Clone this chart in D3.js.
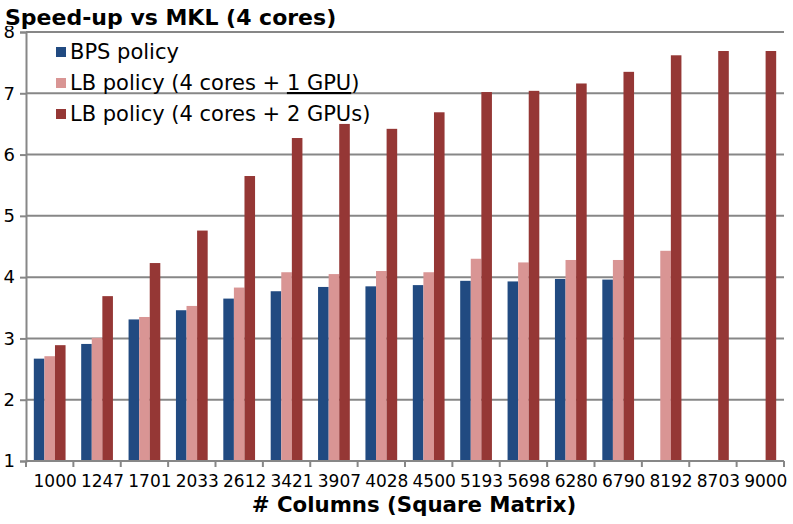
<!DOCTYPE html>
<html><head><meta charset="utf-8">
<script src="https://cdn.jsdelivr.net/npm/d3@7"></script>
<style>body{margin:0;background:#fff}svg{display:block}text{font-family:"DejaVu Sans",sans-serif}</style>
</head><body><svg id="c" width="793" height="524"></svg>
<script>
const categories = ["1000","1247","1701","2033","2612","3421","3907","4028","4500","5193","5698","6280","6790","8192","8703","9000"];
const seriesNames = ["BPS policy","LB policy (4 cores + 1 GPU)","LB policy (4 cores + 2 GPUs)"];
const bps = [2.67,2.91,3.31,3.46,3.65,3.77,3.84,3.85,3.87,3.94,3.93,3.97,3.96,null,null,null];
const lb1 = [2.71,3.01,3.35,3.53,3.83,4.08,4.05,4.10,4.08,4.30,4.24,4.28,4.28,4.43,null,null];
const lb2 = [2.89,3.69,4.23,4.76,5.65,6.27,6.50,6.42,6.69,7.02,7.04,7.16,7.35,7.62,7.69,7.69];
const yTicks = [1,2,3,4,5,6,7,8];
const colors = ["#214a81","#d99594","#953735"];

const svg = d3.select("#c");
const L = 26, R = 784, T = 32, B = 461;
const x = d3.scaleBand().domain(categories).range([L, R]).paddingInner(0.33).paddingOuter(0.165);
const xb = d3.scaleBand().domain(categories).range([L, R]);
const x1 = d3.scaleBand().domain([0,1,2]).range([0, x.bandwidth()]);
const y = d3.scaleLinear().domain([1,8]).range([B, T]);

// grid
svg.append("g").selectAll("line").data(yTicks.slice(1)).join("line")
  .attr("x1", L).attr("x2", R).attr("y1", d=>y(d)).attr("y2", d=>y(d))
  .attr("stroke", "#878787").attr("stroke-width", 2);

// bars
const series = [bps, lb1, lb2];
series.forEach((vals, si) => {
  svg.append("g").selectAll("rect").data(categories.map((c,i)=>({c, v: vals[i]})).filter(d=>d.v!=null)).join("rect")
    .attr("x", d => x(d.c) + x1(si)).attr("width", x1.bandwidth())
    .attr("y", d => y(d.v)).attr("height", d => y(1) - y(d.v))
    .attr("fill", colors[si]);
});

// y axis
const ya = svg.append("g").attr("transform", `translate(${L},0)`)
  .call(d3.axisLeft(y).tickValues(yTicks).tickSize(6).tickPadding(5).tickFormat(d3.format("d")));
ya.select(".domain").attr("stroke", "#878787").attr("stroke-width", 2);
ya.selectAll(".tick line").attr("stroke", "#878787").attr("stroke-width", 2);
ya.selectAll(".tick text").attr("font-size", 18).attr("fill", "#000").attr("font-family", "DejaVu Sans");

// x axis
const xa = svg.append("g").attr("transform", `translate(0,${B})`);
xa.append("line").attr("x1", L).attr("x2", R).attr("y1", 0).attr("y2", 0).attr("stroke", "#878787").attr("stroke-width", 2);
const bounds = categories.map(c => xb(c)).concat([R]);
xa.selectAll("line.t").data(bounds).join("line").attr("class","t")
  .attr("x1", d=>d).attr("x2", d=>d).attr("y1", 0).attr("y2", 6).attr("stroke", "#878787").attr("stroke-width", 2);
xa.selectAll("text").data(categories).join("text")
  .attr("x", d => xb(d) + xb.bandwidth()/2 + 5.5).attr("y", 26)
  .attr("text-anchor", "middle").attr("font-size", 17).attr("fill", "#000").text(d=>d);

// titles
svg.append("rect").attr("x", 0).attr("y", 0).attr("width", 340).attr("height", 26).attr("fill", "#fff");
svg.append("text").attr("x", 5).attr("y", 25).attr("font-size", 22).attr("font-weight", "bold").text("Speed-up vs MKL (4 cores)");
svg.append("text").attr("x", 414).attr("y", 512).attr("text-anchor","middle").attr("font-size", 21.3).attr("font-weight", "bold").text("# Columns (Square Matrix)");

// legend
const lg = svg.append("g");
seriesNames.forEach((n, i) => {
  const yy = 52 + i*31;
  lg.append("rect").attr("x", 56).attr("y", yy-5).attr("width", 10).attr("height", 10).attr("fill", colors[i]);
  const t = lg.append("text").attr("x", 70).attr("y", yy+7).attr("font-size", 21);
  if (i === 1) {
    t.append("tspan").text("LB policy (4 cores + ");
    t.append("tspan").attr("text-decoration","underline").text("1 GPU");
    t.append("tspan").text(")");
  } else t.text(n);
});
</script></body></html>
